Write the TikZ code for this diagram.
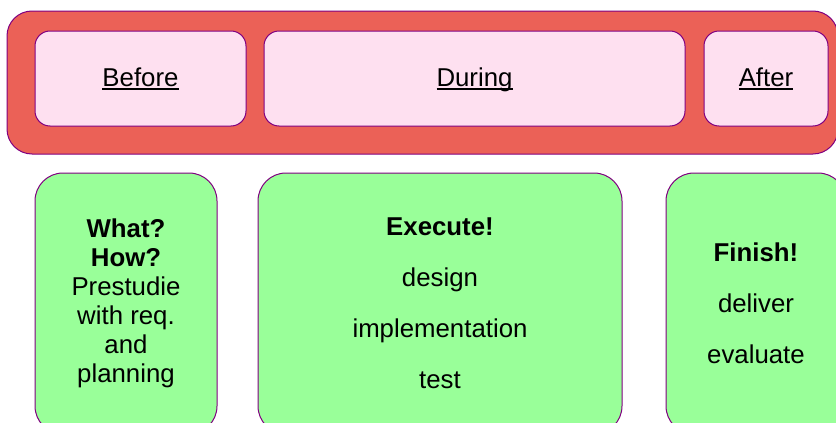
\documentclass[tikz,border=0pt]{standalone}
\usepackage{fontspec}
\setmainfont{Liberation Sans}
\newcommand{\phaseul}[1]{\setbox0\hbox{#1}\rlap{\rule[-2.8pt]{\wd0}{1.3pt}}\box0}
\definecolor{framered}{HTML}{EB6157}
\definecolor{phasepink}{HTML}{FEE0F0}
\definecolor{taskgreen}{HTML}{99FF99}
\definecolor{edgepurple}{HTML}{800080}
\tikzset{
  frame/.style = {draw=edgepurple, line width=1pt, fill=framered, rounded corners=25pt, inner sep=0pt},
  phase/.style = {draw=edgepurple, line width=1pt, fill=phasepink, rounded corners=15pt, inner sep=0pt,
                  minimum height=95pt, text height=18.5pt, text depth=2pt,
                  font=\fontsize{25.8}{29}\selectfont},
  task/.style  = {draw=edgepurple, line width=1pt, fill=taskgreen, rounded corners=28pt, inner sep=0pt,
                  minimum height=261pt, align=center, font=\fontsize{25.8}{29}\selectfont}
}
\begin{document}
\begin{tikzpicture}[x=1pt, y=-1pt]
  \clip (0,0) rectangle (836,423);
  \node[frame, minimum width=831pt, minimum height=143pt] (timeline) at (422.5,82.5) {};
  \node[phase, minimum width=211pt] (before) at (140.5,78.5) {\phaseul{Before}};
  \node[phase, minimum width=421pt] (during) at (474.5,78.5) {\phaseul{During}};
  \node[phase, minimum width=124pt] (after) at (766,78.5) {\phaseul{After}};

  \node[task, minimum width=182pt] (plan) at (126,303.5)
    {\textbf{What?}\\\textbf{How?}\\Prestudie\\with req.\\and\\planning};
  \node[task, minimum width=364pt] (work) at (440,303.5)
    {\textbf{Execute!}\\[22pt]design\\[22pt]implementation\\[22pt]test};
  \node[task, minimum width=180pt] (close) at (756,303.5)
    {\textbf{Finish!}\\[22pt]deliver\\[22pt]evaluate};
\end{tikzpicture}
\end{document}
